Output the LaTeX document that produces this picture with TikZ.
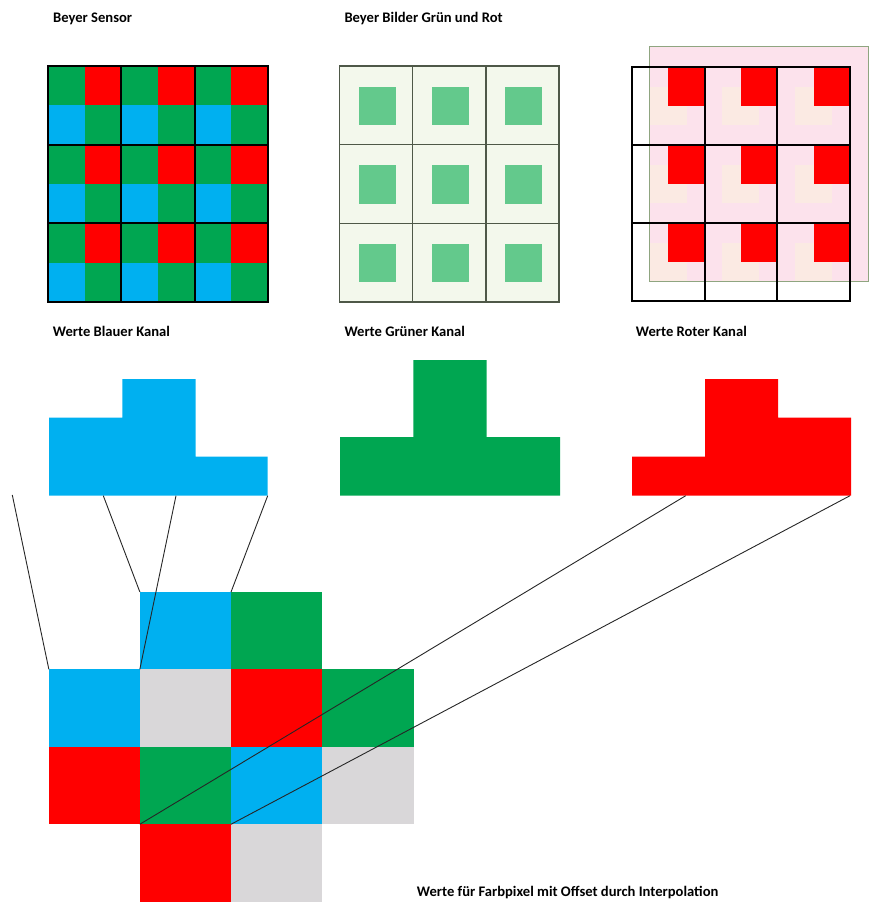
\documentclass[tikz,border=0pt]{standalone}
\usepackage{fontspec}
\setmainfont{Carlito}
\usetikzlibrary{positioning}

\definecolor{bgreen}{HTML}{00A651}
\definecolor{bblue}{HTML}{00B0F0}
\definecolor{bred}{HTML}{FF0000}
\definecolor{bgray}{HTML}{D9D7D9}
\definecolor{gcell}{HTML}{F3F8EC}
\definecolor{gsquare}{HTML}{63C98C}
\definecolor{gline}{HTML}{4E5848}
\definecolor{rpink}{HTML}{FCE2EC}
\definecolor{ryell}{HTML}{FBEAE3}
\definecolor{rframe}{HTML}{8FA580}

\begin{document}
\begin{tikzpicture}[x=1pt,y=1pt,yscale=-1,
  lbl/.style = {font=\bfseries\fontsize{14.6}{17}\selectfont,
  anchor=base west, inner sep=0pt},
  cell/.style = {minimum width=91.3pt, minimum height=77.5pt,
  inner sep=0pt, outer sep=0pt},
  blk/.style = {draw=black, line width=2.2pt},
  link/.style = {draw=black!85, line width=0.9pt}
  ]
  \useasboundingbox (0,0) rectangle (892,922);

  \node[lbl] (tsensor) at (53,22.7) {Beyer Sensor};
  \node[lbl] (tbilder) at (344.3,22.7) {Beyer Bilder Grün und Rot};
  \node[lbl] (tblau) at (52.7,336.7) {Werte Blauer Kanal};
  \node[lbl] (tgruen) at (344.3,336.7) {Werte Grüner Kanal};
  \node[lbl] (trot) at (635.7,336.7) {Werte Roter Kanal};
  \node[lbl] (tinter) at (416.7,896.7) {Werte für Farbpixel mit Offset durch Interpolation};

  % Beyer sensor
  \foreach \i in {0,1,2}
    \foreach \j in {0,1,2} {
      \fill[bgreen] ({48+73.33*\i},{66+78.67*\j}) rectangle ++(73.33,78.67);
      \fill[bred] ({84.67+73.33*\i},{66+78.67*\j}) rectangle ++(36.67,39.33);
      \fill[bblue] ({48+73.33*\i},{105.33+78.67*\j}) rectangle ++(36.67,39.33);
      \draw[blk] ({48+73.33*\i},{66+78.67*\j}) rectangle ++(73.33,78.67);
    }

  % gruen
  \foreach \i in {0,1,2}
    \foreach \j in {0,1,2} {
      \filldraw[fill=gcell, draw=gline, line width=1.6pt]
        ({339.3+73.33*\i},{66+78.67*\j}) rectangle ++(73.33,78.67);
      \fill[gsquare] ({358.5+73.33*\i},{86.5+78.67*\j}) rectangle ++(37,38.5);
    }

  % rot
  \filldraw[fill=rpink, draw=rframe, line width=0.8pt] (649.3,46.7) rectangle (868.3,281.3);
  \foreach \i in {0,1,2}
    \foreach \j in {0,1,2} {
      \fill[ryell] ({649.8+72.67*\i},{86.5+78.1*\j}) rectangle ++(37,38.5);
      \fill[bred] ({668.3+72.67*\i},{66.7+78.1*\j}) rectangle ++(36.3,39.4);
      \draw[blk, line width=2pt] ({632+72.67*\i},{66.7+78.1*\j}) rectangle ++(72.67,78.1);
    }

  \fill[bblue] (49,495.7) -- (49,417.7) -- (122.3,417.7) -- (122.3,379)
    -- (195.7,379) -- (195.7,456.7) -- (267.7,456.7) -- (267.7,495.7) -- cycle;
  \fill[bgreen] (340,495.7) -- (340,437) -- (413.3,437) -- (413.3,360)
    -- (486.7,360) -- (486.7,437) -- (560,437) -- (560,495.7) -- cycle;
  \fill[bred] (632,495.7) -- (632,456.7) -- (705,456.7) -- (705,379)
    -- (778,379) -- (778,417.7) -- (851,417.7) -- (851,495.7) -- cycle;

  \coordinate (pb0) at (12.3,495);
  \coordinate (pb1) at (103.3,495.7);
  \coordinate (pb2) at (176,495.7);
  \coordinate (pb3) at (267.7,495.7);
  \coordinate (pr1) at (685.7,495.7);
  \coordinate (pr2) at (850,495.7);

  % Farbpixel
  \node[cell, fill=bblue] (m01) at (185.5,630.7) {};
  \node[cell, fill=bgreen] (m02) at (276.7,630.7) {};
  \node[cell, fill=bblue] (m10) at (94.5,708) {};
  \node[cell, fill=bgray] (m11) at (185.5,708) {};
  \node[cell, fill=bred] (m12) at (276.7,708) {};
  \node[cell, fill=bgreen] (m13) at (368,708) {};
  \node[cell, fill=bred] (m20) at (94.5,785.5) {};
  \node[cell, fill=bgreen] (m21) at (185.5,785.5) {};
  \node[cell, fill=bblue] (m22) at (276.7,785.5) {};
  \node[cell, fill=bgray] (m23) at (368,785.5) {};
  \node[cell, fill=bred] (m31) at (185.5,863) {};
  \node[cell, fill=bgray] (m32) at (276.7,863) {};

  \draw[link] (pb0) -- (m10.north west);
  \draw[link] (pb1) -- (m01.north west);
  \draw[link] (pb2) -- (m11.north west);
  \draw[link] (pb3) -- (m02.north west);
  \draw[link] (pr1) -- (m31.north west);
  \draw[link] (pr2) -- (m32.north west);

\end{tikzpicture}
\end{document}
